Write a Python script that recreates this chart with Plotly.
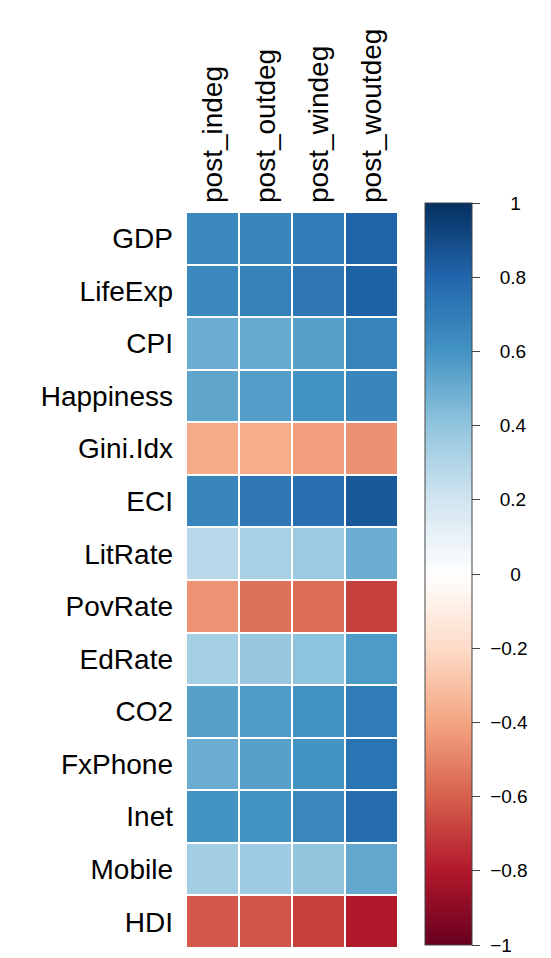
import plotly.graph_objects as go

rows = ["GDP", "LifeExp", "CPI", "Happiness", "Gini.Idx", "ECI", "LitRate",
        "PovRate", "EdRate", "CO2", "FxPhone", "Inet", "Mobile", "HDI"]
cols = ["post_indeg", "post_outdeg", "post_windeg", "post_woutdeg"]

post_indeg = [0.65, 0.65, 0.50, 0.53, -0.38, 0.66, 0.28, -0.45, 0.34, 0.55, 0.50, 0.60, 0.35, -0.62]
post_outdeg = [0.66, 0.68, 0.51, 0.56, -0.37, 0.72, 0.33, -0.55, 0.38, 0.57, 0.55, 0.60, 0.36, -0.63]
post_windeg = [0.70, 0.72, 0.55, 0.60, -0.42, 0.76, 0.37, -0.56, 0.41, 0.61, 0.60, 0.65, 0.40, -0.69]
post_woutdeg = [0.81, 0.82, 0.67, 0.66, -0.46, 0.85, 0.50, -0.69, 0.57, 0.70, 0.74, 0.77, 0.52, -0.80]

cbar_vals = [1, 0.8, 0.6, 0.4, 0.2, 0, -0.2, -0.4, -0.6, -0.8, -1]
cbar_text = ["1", "0.8", "0.6", "0.4", "0.2", "0", "\u22120.2", "\u22120.4", "\u22120.6", "\u22120.8", "\u22121"]

palette = ["#67001F", "#B2182B", "#D6604D", "#F4A582", "#FDDBC7", "#FFFFFF",
           "#D1E5F0", "#92C5DE", "#4393C3", "#2166AC", "#053061"]
colorscale = [[i / 10, c] for i, c in enumerate(palette)]

z = [[post_indeg[i], post_outdeg[i], post_windeg[i], post_woutdeg[i]] for i in range(len(rows))]


def pad_label(t):
    # invisible spacer so colorbar labels sit where the reference puts them
    def sp(s):
        return "<span style='color:rgba(0,0,0,0)'>" + s + "</span>"
    if t.startswith("\u2212"):
        return sp("-") + t
    if t in ("1", "0"):
        return sp("00.") + t
    return sp("0.") + t


fig = go.Figure(go.Heatmap(
    z=z, x=cols, y=rows, zmin=-1, zmax=1, colorscale=colorscale,
    xgap=2, ygap=2,
    colorbar=dict(
        x=1.127, xanchor="left", xpad=0,
        y=1.0122, yanchor="top", ypad=0,
        len=1.008, lenmode="fraction", thickness=47,
        outlinewidth=1, outlinecolor="#444",
        tickmode="array", tickvals=cbar_vals, ticktext=[pad_label(t) for t in cbar_text],
        ticks="outside", ticklen=8, tickcolor="#444",
        tickfont=dict(size=19, color="black", family="Liberation Sans"),
    ),
))

fig.update_layout(
    width=551, height=958,
    margin=dict(l=178, r=161, t=204, b=18, autoexpand=False),
    plot_bgcolor="white", paper_bgcolor="white",
    font=dict(family="Liberation Sans", color="black"),
)
fig.update_xaxes(side="top", tickangle=-90, tickfont=dict(size=28), showgrid=False,
                 zeroline=False, ticks="", ticklabelstandoff=8)
fig.update_yaxes(autorange="reversed", tickfont=dict(size=28), showgrid=False,
                 zeroline=False, ticks="", ticklabelstandoff=12)

fig.write_html("out.html")
